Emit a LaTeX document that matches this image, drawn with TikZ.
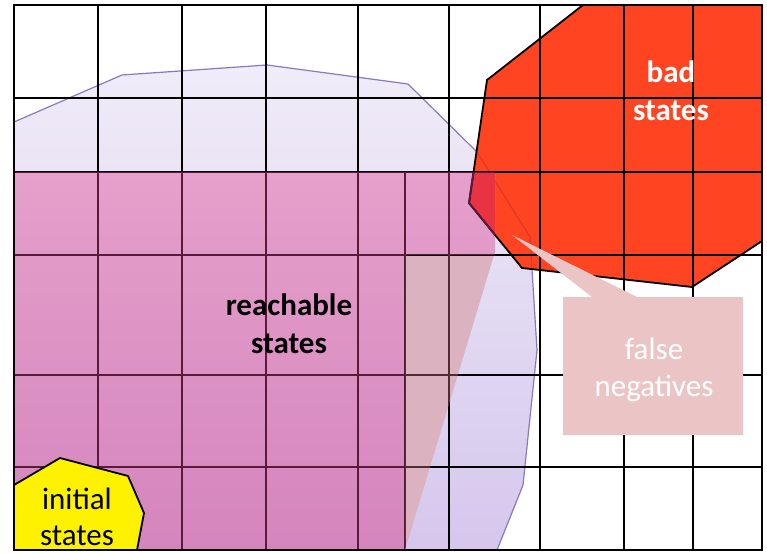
\documentclass[tikz,border=0pt]{standalone}
\usepackage{fontspec}
\setmainfont{Carlito}
\definecolor{lavtop}{RGB}{240,236,248}
\definecolor{lavbot}{RGB}{213,199,237}
\definecolor{lavline}{RGB}{140,120,190}
\definecolor{pinktop}{RGB}{229,160,203}
\definecolor{pinkbot}{RGB}{212,133,189}
\definecolor{badred}{RGB}{255,68,34}
\definecolor{crimson}{RGB}{233,50,66}
\definecolor{tan}{RGB}{219,178,192}
\definecolor{calloutfill}{RGB}{235,197,197}
\definecolor{maroon}{RGB}{90,26,58}
\definecolor{brownline}{RGB}{80,44,52}
\definecolor{redlav}{RGB}{222,56,42}
\tikzset{
  gridline/.style={line width=1.8pt},
  lbl/.style={anchor=base, inner sep=0pt, font=\fontsize{31}{38}\selectfont},
  boldlbl/.style={lbl, font=\fontsize{31}{38}\selectfont\bfseries},
}
\begin{document}
\begin{tikzpicture}[x=1pt,y=-1pt]
\useasboundingbox (0,0) rectangle (767,553);
\fill[white] (0,0) rectangle (767,553);
% over-approximation (lavender)
\def\lavpath{(14,122) -- (122,75) -- (267,65) -- (408,84) -- (477,152) -- (530,237) -- (537,350) -- (523,485) -- (497,550) -- (14,550) -- cycle}
\shade[top color=lavtop, bottom color=lavbot] \lavpath;
\draw[lavline, line width=1.2pt, line join=round] (14,122) -- (122,75) -- (267,65) -- (408,84) -- (477,152) -- (530,237) -- (537,350) -- (523,485) -- (497,550);
% bad states (red)
\def\redpath{(583,5) -- (762,5) -- (762,241) -- (692,287) -- (522,268) -- (469,203) -- (487,80) -- cycle}
\fill[badred] \redpath;
\begin{scope}
  \clip \redpath;
  \draw[redlav, line width=1.2pt] (408,84) -- (477,152) -- (530,237) -- (537,350);
\end{scope}
% reachable states (pink)
\def\pinkpath{(14,172) -- (495,172) -- (495,255) -- (405,255) -- (405,550) -- (14,550) -- cycle}
\shade[top color=pinktop, bottom color=pinkbot] \pinkpath;
\begin{scope}
  \clip (405,172) rectangle (495,255);
  \fill[crimson] \redpath;
\end{scope}
% false negative wedge
\def\tanpath{(405,255) -- (494,255) -- (405,550) -- cycle}
\fill[tan] \tanpath;
% grid
\foreach \x in {98,182,266,358,449,540,624,693}
  \draw[gridline] (\x,5) -- (\x,550);
\foreach \y in {98,172,255,375,467}
  \draw[gridline] (14,\y) -- (762,\y);
\draw[gridline] \redpath;
\begin{scope}
  \clip \pinkpath;
  \foreach \x in {98,182,266,358,449}
    \draw[gridline, maroon] (\x,5) -- (\x,550);
  \foreach \y in {172,255,375,467}
    \draw[gridline, maroon] (14,\y) -- (762,\y);
  \draw[gridline, maroon] (405,172) -- (405,550);
  \draw[gridline, maroon] \redpath;
\end{scope}
\begin{scope}
  \clip \tanpath;
  \foreach \x in {449}
    \draw[gridline, brownline] (\x,5) -- (\x,550);
  \foreach \y in {375,467}
    \draw[gridline, brownline] (14,\y) -- (762,\y);
  \draw[gridline, brownline] (405,172) -- (405,550);
\end{scope}
% initial states (yellow)
\draw[gridline, fill=yellow, line join=round] (14,485) -- (60,458) -- (128,476) -- (144,513) -- (137,550) -- (14,550) -- cycle;
% callout
\fill[calloutfill] (563,297) -- (592,297) -- (512,235) -- (637,297) -- (743,297) -- (743,435) -- (563,435) -- cycle;
% outer border
\draw[gridline] (14,5) rectangle (762,550);
% labels
\node[boldlbl, white] (bad1) at (671,83) {bad};
\node[boldlbl, white] (bad2) at (671,121) {states};
\node[boldlbl] (reach1) at (289,315) {reachable};
\node[boldlbl] (reach2) at (289,353) {states};
\node[lbl, white] (fn1) at (654,359) {false};
\node[lbl, white] (fn2) at (654,396) {negatives};
\node[lbl] (init1) at (77,509) {initial};
\node[lbl] (init2) at (77,545) {states};
\end{tikzpicture}
\end{document}
